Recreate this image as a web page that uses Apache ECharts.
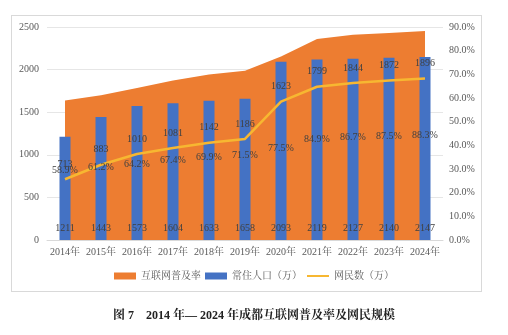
<!DOCTYPE html>
<html>
<head>
<meta charset="utf-8">
<script src="https://cdn.jsdelivr.net/npm/echarts@6/dist/echarts.min.js"></script>
<style>
  html, body { margin: 0; padding: 0; background: #fff; }
  #frame { position: absolute; left: 11px; top: 15px; width: 471px; height: 277px; border: 1px solid #d9d9d9; box-sizing: border-box; }
  #chart { position: absolute; left: 0; top: 0; width: 508px; height: 335px; }
</style>
</head>
<body>
<div id="frame"></div>
<div id="chart"></div>
<script>
// 2014–2024 成都常住人口、网民数与互联网普及率
const years = ['2014年', '2015年', '2016年', '2017年', '2018年', '2019年', '2020年', '2021年', '2022年', '2023年', '2024年'];
const population = [1211, 1443, 1573, 1604, 1633, 1658, 2093, 2119, 2127, 2140, 2147];   // 常住人口（万）
const netizens = [713, 883, 1010, 1081, 1142, 1186, 1623, 1799, 1844, 1872, 1896];        // 网民数（万）
const penetration = [58.9, 61.2, 64.2, 67.4, 69.9, 71.5, 77.5, 84.9, 86.7, 87.5, 88.3];  // 互联网普及率（%）

const serif = '"Liberation Serif", "Noto Serif CJK SC", "Noto Sans CJK SC", serif';
const txt = '#404040';

const chart = echarts.init(document.getElementById('chart'), null, { renderer: 'canvas' });
chart.setOption({
  animation: false,
  textStyle: { fontFamily: serif },
  title: {
    text: '图 7　2014 年— 2024 年成都互联网普及率及网民规模',
    left: 'center', top: 305,
    textStyle: { fontSize: 12, fontWeight: 'bold', color: '#222', fontFamily: serif }
  },
  legend: {
    bottom: 49, left: 'center',
    itemWidth: 22, itemHeight: 7, itemGap: 4,
    textStyle: { fontSize: 10, color: '#595959', fontFamily: serif },
    data: [
      { name: '互联网普及率', icon: 'rect' },
      { name: '常住人口（万）', icon: 'rect' },
      { name: '网民数（万）', itemStyle: { opacity: 0 } }
    ]
  },
  grid: { left: 47, right: 65, top: 27, bottom: 95 },
  xAxis: {
    type: 'category', data: years,
    axisTick: { show: false },
    axisLine: { lineStyle: { color: '#d9d9d9' } },
    axisLabel: { interval: 0, fontSize: 10, color: '#595959', margin: 7, fontFamily: serif }
  },
  yAxis: [
    {
      type: 'value', min: 0, max: 2500, interval: 500,
      axisLine: { show: false }, axisTick: { show: false },
      splitLine: { lineStyle: { color: '#e6e6e6' } },
      axisLabel: { fontSize: 10, color: '#595959', margin: 8, fontFamily: serif,
        formatter: v => String(v) }
    },
    {
      type: 'value', min: 0, max: 90, interval: 10,
      axisLine: { show: false }, axisTick: { show: false },
      splitLine: { show: false },
      axisLabel: { fontSize: 10, color: '#595959', margin: 6, fontFamily: serif,
        formatter: v => v.toFixed(1) + '%' }
    }
  ],
  series: [
    {
      name: '互联网普及率', type: 'line', yAxisIndex: 1, data: penetration,
      symbol: 'none', lineStyle: { width: 0 },
      itemStyle: { color: '#ED7D31' },
      areaStyle: { color: '#ED7D31', opacity: 1 },
      z: 1
    },
    {
      name: '常住人口（万）', type: 'bar', data: population, barWidth: 11,
      itemStyle: { color: '#4472C4' },
      label: { show: true, position: 'insideBottom', distance: 7, color: txt, fontSize: 10, fontFamily: serif },
      z: 2
    },
    {
      name: '网民数（万）', type: 'line', data: netizens,
      symbol: 'circle', symbolSize: 0.01, showSymbol: true,
      lineStyle: { width: 2.5, color: '#F7B731' },
      itemStyle: { color: '#F7B731' },
      label: { show: true, position: 'top', distance: 10, color: txt, fontSize: 10, fontFamily: serif },
      labelLayout: { hideOverlap: false },
      z: 3
    },
    {
      // 普及率数值标签，置于面积的中部
      name: 'rateLabel', type: 'custom', yAxisIndex: 1,
      data: penetration.map((v, i) => [i, v]),
      renderItem: (params, api) => {
        const v = api.value(1);
        const top = api.coord([api.value(0), v]);
        const base = api.coord([api.value(0), 0]);
        return {
          type: 'text', x: top[0], y: (top[1] + base[1]) / 2,
          style: { text: v.toFixed(1) + '%', fill: txt, fontSize: 10, fontFamily: serif,
                   align: 'center', verticalAlign: 'middle' }
        };
      },
      z: 4, silent: true
    }
  ]
});
</script>
</body>
</html>
